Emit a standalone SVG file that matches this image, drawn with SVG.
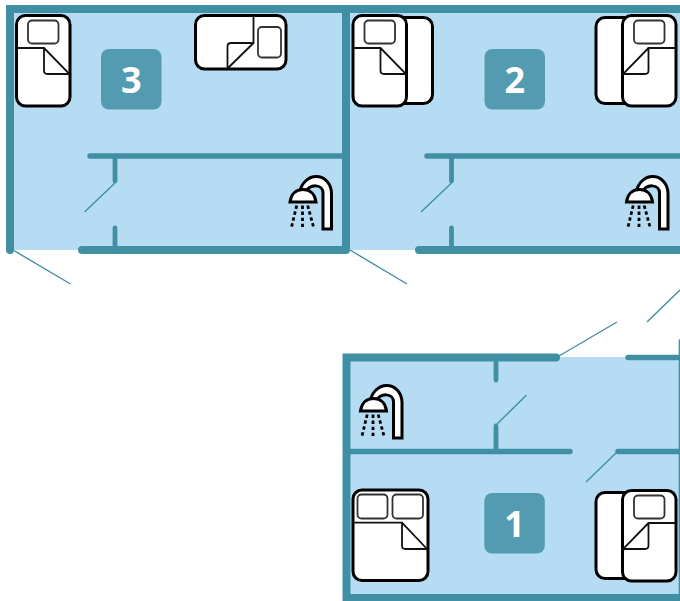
<svg xmlns="http://www.w3.org/2000/svg" xmlns:xlink="http://www.w3.org/1999/xlink" width="680" height="601" viewBox="0 0 680 601">
<style>
.floor{fill:#b6dcf4}
.wall{fill:none;stroke:#408fa3;stroke-linecap:round}
.w8{stroke-width:8}
.w5{stroke-width:5.5}
.w4{stroke-width:4.8}
.leaf{fill:none;stroke:#408fa3;stroke-width:1.4}
.badge{fill:#529bb0}
.num{font-family:"Open Sans",sans-serif;font-weight:700;font-size:36px;fill:#fff;text-anchor:middle}
.mat{fill:#fff;stroke:#000;stroke-width:3}
.thin{fill:none;stroke:#111;stroke-width:1.8}
.pil{fill:#fff;stroke:#333;stroke-width:1.8}
.pipe{fill:#fff;stroke:#000;stroke-width:3;stroke-linejoin:miter}
.spray{fill:none;stroke:#000;stroke-width:2.8;stroke-dasharray:3.400 2.700}
</style>
<defs>
<g id="single">
<rect class="mat" x="16.500" y="15.500" width="53.500" height="90.500" rx="9"/>
<rect class="pil" x="28" y="20.500" width="30.500" height="23" rx="4"/>
<path class="thin" d="M17 48H44V70.500Q44 74 47.500 74H69.500L44 48"/>
</g>
<g id="double">
<rect class="mat" x="353" y="490" width="75" height="90.500" rx="9"/>
<rect class="pil" x="357.500" y="494.500" width="30" height="24" rx="4"/>
<rect class="pil" x="392.500" y="494.500" width="30.500" height="24" rx="4"/>
<path class="thin" d="M354 522.700H402V545.500Q402 549 405.500 549H427L402 522.700"/>
</g>
<g id="shower">
<path class="pipe" d="M323 229V193C323 184 310 183 305 193L299.500 192C302 182 309 176.500 316 176.500C325 176.500 331.500 184 331.500 193.500V229Z"/>
<path class="pipe" d="M290 202H316C315 194 310 189.500 303 189.500C296 189.500 291 194 290 202Z"/>
<path class="spray" d="M296.700 205.500L291.500 227M302.500 205.500V227M307.700 205.500L313.500 227"/>
</g>
</defs>
<g id="floors">
<rect class="floor" x="10" y="9" width="670" height="241"/>
<rect class="floor" x="346" y="357" width="334" height="241"/>
</g>
<g id="connectors">
<path class="wall w8" d="M680 9H10V250M346 9V250M82 250H346M419 250H680"/>
<path class="wall w5" d="M90 156H346M427 156H680"/>
<path class="wall w4" d="M115 156V181M115 228V250M451.500 156V181M451.500 228V250"/>
<path class="wall w8" d="M556 357.500H346.500V598H680"/>
<path class="wall w5" d="M628 357.500H680M350 451.500H570M618 451.500H680"/>
<path class="wall w4" d="M496 357.500V380M496 426V451.500"/>
<path class="wall" stroke-width="1.600" d="M679.500 340V601"/>
<path class="leaf" d="M115 183L84.500 212M13 250L70.500 284M451.500 183L421 212M350 250L407 284M559 356L617 322M680 290L647 322M497 424L526.500 395M616 453L586 482"/>
</g>
<g id="room-3">
<rect class="badge" x="101" y="49" width="60.500" height="60.500" rx="8"/>
<text class="num" x="131.200" y="93">3</text>
<use href="#single"/>
<use href="#single" transform="translate(301.500,-1) rotate(90)"/>
<use href="#shower"/>
</g>
<g id="room-2">
<rect class="badge" x="484.500" y="49" width="60.500" height="60.500" rx="8"/>
<text class="num" x="514.700" y="93">2</text>
<rect class="mat" x="375" y="17.500" width="57.500" height="86" rx="9"/>
<use href="#single" transform="translate(336.500,0)"/>
<rect class="mat" x="596" y="17.500" width="50" height="86" rx="9"/>
<use href="#single" transform="translate(692.500,0) scale(-1,1)"/>
<use href="#shower" transform="translate(336.500,0)"/>
</g>
<g id="room-1">
<rect class="badge" x="484.300" y="493" width="60.500" height="60.500" rx="8"/>
<text class="num" x="514.500" y="537">1</text>
<use href="#double"/>
<rect class="mat" x="596" y="492.500" width="50" height="86" rx="9"/>
<use href="#single" transform="translate(692.500,475) scale(-1,1)"/>
<use href="#shower" transform="translate(70.500,209)"/>
</g>
</svg>
